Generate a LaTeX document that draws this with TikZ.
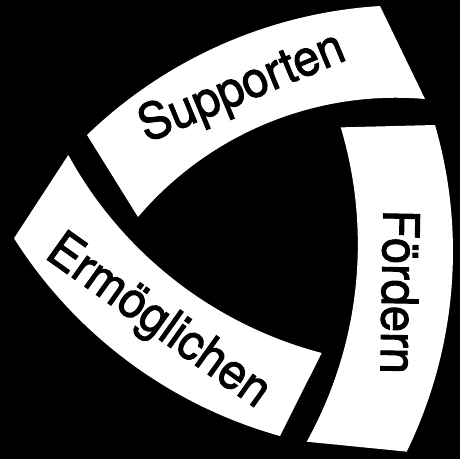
\documentclass[tikz,border=0pt]{standalone}
\usepackage{fontspec}
\setmainfont{TeX Gyre Heros}[BoldFont=TeX Gyre Heros, BoldFeatures={FakeBold=2}]
\newcommand\sqz[1]{\scalebox{0.94}[1]{#1}}
\begin{document}
\begin{tikzpicture}[x=1pt,y=1pt,
  band/.style={fill=white},
  lbl/.style={text=black, inner sep=0pt, anchor=base, font=\fontsize{50}{60}\selectfont\bfseries}]
\fill[black] (0,0) rectangle (460,459);
\useasboundingbox (0,0) rectangle (460,459);
% Supporten band
\fill[band] (87,324) arc[start angle=133.99, end angle=93.54, radius=463]
  -- (425,360) arc[start angle=85.05, end angle=139.65, radius=338.3] -- cycle;
% Foerdern band
\fill[band] (435,334) arc[start angle=16.14, end angle=-26.05, radius=455.5]
  -- (306.7,17.3) arc[start angle=-29.03, end angle=16.67, radius=407.1] -- cycle;
% Ermoeglichen band
\fill[band] (280,23) arc[start angle=254.40, end angle=212.35, radius=461.9]
  -- (68.3,304) arc[start angle=208.69, end angle=255.30, radius=406.4] -- cycle;
\node[lbl, rotate=22.5] (sup) at (247.5,358) {\sqz{Supporten}};
\node[lbl, rotate=-91] (foe) at (382,167.5) {\sqz{Fördern}};
\node[lbl, rotate=-35.5] (erm) at (150,126) {\sqz{Ermöglichen}};
\end{tikzpicture}
\end{document}
